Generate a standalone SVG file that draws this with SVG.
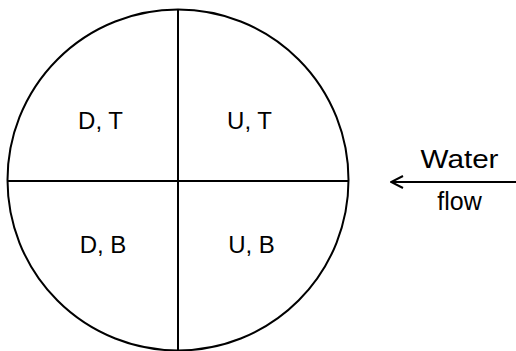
<svg xmlns="http://www.w3.org/2000/svg" width="516" height="351" viewBox="0 0 516 351">
  <style>
    .ln { fill: none; stroke: #000; stroke-width: 2; }
    .lbl { font-family: "Liberation Sans", Arial, sans-serif; font-size: 24px; fill: #000; text-anchor: middle; }
    .flow { font-family: "Liberation Sans", Arial, sans-serif; font-size: 25px; fill: #000; text-anchor: middle; }
  </style>
  <defs>
    <marker id="arrowhead" viewBox="0 0 14 14" refX="13" refY="7" markerWidth="14" markerHeight="14" markerUnits="userSpaceOnUse" orient="auto">
      <path d="M1,1 L13,7 L1,13" fill="none" stroke="#000" stroke-width="2"/>
    </marker>
  </defs>

  <!-- pipe cross-section -->
  <g id="section">
    <circle class="ln" cx="178" cy="180" r="170.5"/>
    <line class="ln" x1="178" y1="10" x2="178" y2="350"/>
    <line class="ln" x1="7.5" y1="181" x2="348.5" y2="181"/>
  </g>

  <!-- quadrant labels -->
  <g id="quad-dt"><text class="lbl" x="100.5" y="129">D, T</text></g>
  <g id="quad-ut"><text class="lbl" x="249.5" y="129">U, T</text></g>
  <g id="quad-db"><text class="lbl" x="103" y="253">D, B</text></g>
  <g id="quad-ub"><text class="lbl" x="251.5" y="253">U, B</text></g>

  <!-- flow direction -->
  <g id="connectors">
    <line class="ln" x1="516" y1="182" x2="391" y2="182" marker-end="url(#arrowhead)"/>
  </g>
  <g id="flow-label">
    <text class="flow" x="459.5" y="168" textLength="78" lengthAdjust="spacingAndGlyphs">Water</text>
    <text class="flow" x="459.5" y="210">flow</text>
  </g>
</svg>
